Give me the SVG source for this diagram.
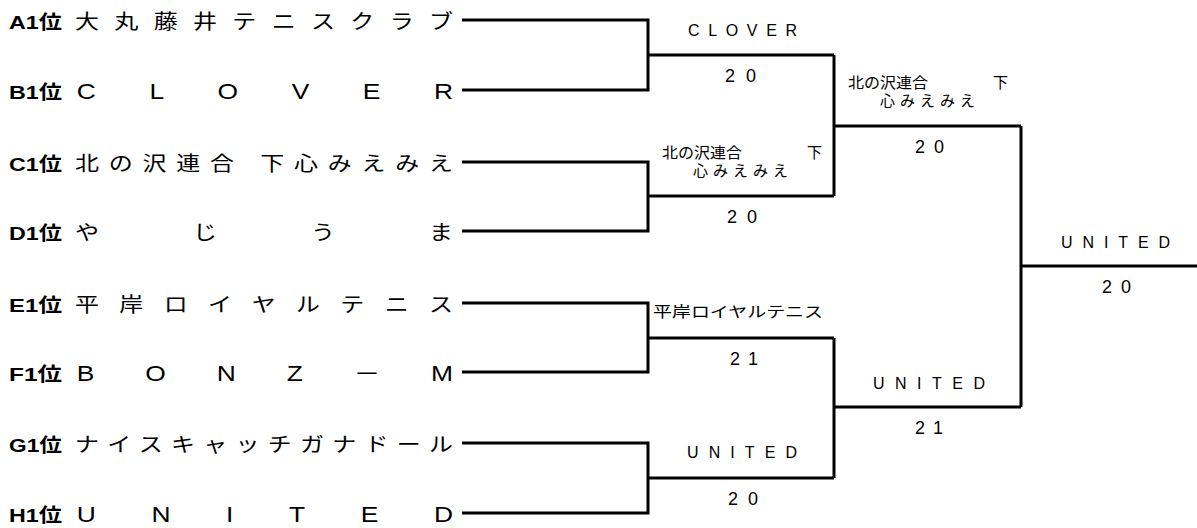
<svg xmlns="http://www.w3.org/2000/svg" width="1197" height="528" viewBox="0 0 1197 528">
<style>
.pre{font-family:"Liberation Sans","Noto Sans CJK JP",sans-serif;font-weight:bold;font-size:19px;fill:#000}
.nm{font-family:"Liberation Sans","Noto Sans CJK JP",sans-serif;font-size:20px;fill:#000}
.nl{font-family:"Liberation Sans","Noto Sans CJK JP",sans-serif;font-size:22px;fill:#000}
.lb{font-family:"Liberation Sans","Noto Sans CJK JP",sans-serif;font-size:16px;fill:#000}
.lbj{font-family:"Noto Sans CJK JP",sans-serif;font-size:15px;fill:#000}
.sc{font-family:"Liberation Sans","Noto Sans CJK JP",sans-serif;font-size:18px;fill:#000}
.ln{fill:none;stroke:#000;stroke-width:3}
</style>
<rect width="1197" height="528" fill="#fff"/>
<g id="connectors">
<path class="ln" d="M462 20H648V90H462M648 55H834"/>
<path class="ln" d="M462 162H648V231H462M648 196H834"/>
<path class="ln" d="M462 303H648V372H462M648 338H834"/>
<path class="ln" d="M462 443H648V513H462M648 478H834"/>
<path class="ln" d="M834 55V196M834 126H1021"/>
<path class="ln" d="M834 338V478M834 407H1021"/>
<path class="ln" d="M1021 126V407M1021 266H1197"/>
</g>
<g id="team-a1"><text class="pre" x="9" y="29" textLength="53" lengthAdjust="spacingAndGlyphs">A1位</text><text class="nm" transform="scale(1.2 1)" x="62.5" y="29" textLength="315">大丸藤井テニスクラブ</text></g>
<g id="team-b1"><text class="pre" x="9" y="99" textLength="53" lengthAdjust="spacingAndGlyphs">B1位</text><text class="nl" transform="scale(1.2 1)" x="64" y="99" textLength="313.5">CLOVER</text></g>
<g id="team-c1"><text class="pre" x="9" y="171" textLength="53" lengthAdjust="spacingAndGlyphs">C1位</text><text class="nm" transform="scale(1.2 1)" x="62.5" y="171" textLength="315">北の沢連合 下心みえみえ</text></g>
<g id="team-d1"><text class="pre" x="9" y="240" textLength="53" lengthAdjust="spacingAndGlyphs">D1位</text><text class="nm" transform="scale(1.2 1)" x="62.5" y="240" textLength="315">やじうま</text></g>
<g id="team-e1"><text class="pre" x="9" y="312" textLength="53" lengthAdjust="spacingAndGlyphs">E1位</text><text class="nm" transform="scale(1.2 1)" x="62.5" y="312" textLength="315">平岸ロイヤルテニス</text></g>
<g id="team-f1"><text class="pre" x="9" y="381" textLength="53" lengthAdjust="spacingAndGlyphs">F1位</text><text class="nl" transform="scale(1.2 1)" x="64" y="381" textLength="313.5">BONZ－M</text></g>
<g id="team-g1"><text class="pre" x="9" y="452" textLength="53" lengthAdjust="spacingAndGlyphs">G1位</text><text class="nm" transform="scale(1.2 1)" x="62.5" y="452" textLength="315">ナイスキャッチガナドール</text></g>
<g id="team-h1"><text class="pre" x="9" y="522" textLength="53" lengthAdjust="spacingAndGlyphs">H1位</text><text class="nl" transform="scale(1.2 1)" x="64" y="522" textLength="313.5">UNITED</text></g>
<g id="match-1"><text class="lb" x="688" y="36" textLength="109">CLOVER</text><text class="sc" x="725" y="82" textLength="31">2 0</text></g>
<g id="match-2"><text class="lbj" x="662" y="158" textLength="80" lengthAdjust="spacingAndGlyphs">北の沢連合</text><text class="lbj" x="807" y="158">下</text><text class="lbj" x="693" y="176" textLength="95">心みえみえ</text><text class="sc" x="727" y="223" textLength="30">2 0</text></g>
<g id="match-3"><text class="lbj" x="653" y="317" textLength="170" lengthAdjust="spacingAndGlyphs">平岸ロイヤルテニス</text><text class="sc" x="730" y="365" textLength="28">2 1</text></g>
<g id="match-4"><text class="lb" x="687" y="458" textLength="110">UNITED</text><text class="sc" x="728" y="505" textLength="30">2 0</text></g>
<g id="semi-1"><text class="lbj" x="848" y="88" textLength="80" lengthAdjust="spacingAndGlyphs">北の沢連合</text><text class="lbj" x="993" y="88">下</text><text class="lbj" x="880" y="106" textLength="95">心みえみえ</text><text class="sc" x="915" y="153" textLength="29">2 0</text></g>
<g id="semi-2"><text class="lb" x="873" y="389" textLength="112">UNITED</text><text class="sc" x="915" y="434" textLength="28">2 1</text></g>
<g id="final"><text class="lb" x="1061" y="248" textLength="109">UNITED</text><text class="sc" x="1102" y="293" textLength="29">2 0</text></g>
</svg>
